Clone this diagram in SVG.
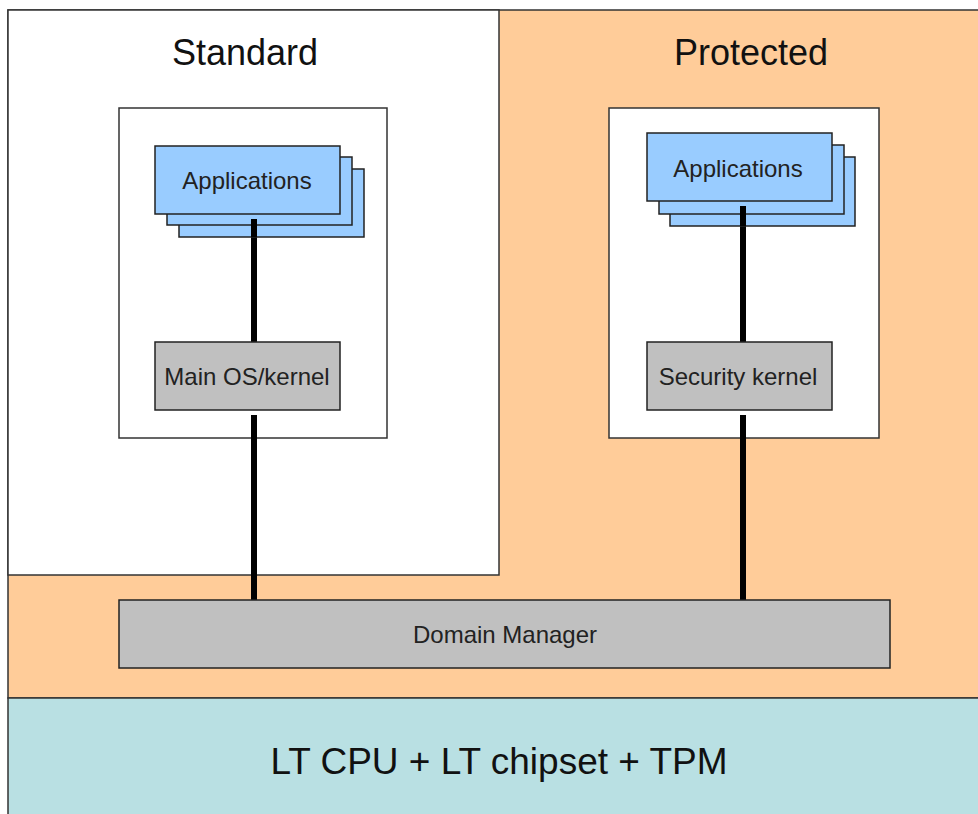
<svg xmlns="http://www.w3.org/2000/svg" width="978" height="814" viewBox="0 0 978 814">
  <style>
    .frame { stroke: #333333; stroke-width: 1.5; }
    .app { fill: #99CCFF; stroke: #222222; stroke-width: 1.5; }
    .gray { fill: #C0C0C0; stroke: #222222; stroke-width: 1.5; }
    .inner { fill: #FFFFFF; stroke: #333333; stroke-width: 1.5; }
    .link { stroke: #000000; stroke-width: 6; fill: none; }
    text { font-family: "Liberation Sans", Arial, sans-serif; fill: #111111; text-anchor: middle; }
    .title { font-size: 36px; }
    .label { font-size: 24px; fill: #222222; }
    .hw { font-size: 37px; }
  </style>

  <rect width="978" height="814" fill="#FFFFFF"/>

  <!-- Protected domain background (also spans beneath the standard domain) -->
  <g id="protected-domain">
    <rect class="frame" x="8" y="10" width="980" height="688" fill="#FFCC99"/>
    <text class="title" x="751" y="65">Protected</text>
  </g>

  <!-- Standard domain -->
  <g id="standard-domain">
    <rect class="frame" x="8" y="10" width="491" height="565" fill="#FFFFFF"/>
    <text class="title" x="245" y="65">Standard</text>
  </g>

  <!-- Hardware layer -->
  <g id="hardware">
    <rect class="frame" x="8" y="698" width="980" height="130" fill="#B9E0E3"/>
    <text class="hw" x="499" y="774">LT CPU + LT chipset + TPM</text>
  </g>

  <!-- Partition containers -->
  <g id="standard-partition">
    <rect class="inner" x="119" y="108" width="268" height="330"/>
  </g>
  <g id="protected-partition">
    <rect class="inner" x="609" y="108" width="270" height="330"/>
  </g>

  <!-- Connectors -->
  <g id="connectors">
    <line class="link" x1="254" y1="219" x2="254" y2="342"/>
    <line class="link" x1="254" y1="415" x2="254" y2="600"/>
    <line class="link" x1="743" y1="206" x2="743" y2="342"/>
    <line class="link" x1="743" y1="415" x2="743" y2="600"/>
  </g>

  <!-- Standard applications stack -->
  <g id="standard-apps">
    <rect class="app" x="179" y="169" width="185" height="68"/>
    <rect class="app" x="167" y="157" width="185" height="68"/>
    <rect class="app" x="155" y="146" width="185" height="68"/>
    <line class="link" x1="254" y1="219" x2="254" y2="237"/>
    <text class="label" x="247" y="189">Applications</text>
  </g>

  <!-- Protected applications stack -->
  <g id="protected-apps">
    <rect class="app" x="670" y="157" width="185" height="69"/>
    <rect class="app" x="659" y="145" width="185" height="69"/>
    <rect class="app" x="647" y="133" width="185" height="68"/>
    <line class="link" x1="743" y1="206" x2="743" y2="226"/>
    <text class="label" x="738" y="177">Applications</text>
  </g>

  <g id="main-os">
    <rect class="gray" x="155" y="342" width="185" height="68"/>
    <text class="label" x="247" y="385">Main OS/kernel</text>
  </g>

  <g id="security-kernel">
    <rect class="gray" x="647" y="342" width="185" height="68"/>
    <text class="label" x="738" y="385">Security kernel</text>
  </g>

  <g id="domain-manager">
    <rect class="gray" x="119" y="600" width="771" height="68"/>
    <text class="label" x="505" y="643">Domain Manager</text>
  </g>
</svg>
